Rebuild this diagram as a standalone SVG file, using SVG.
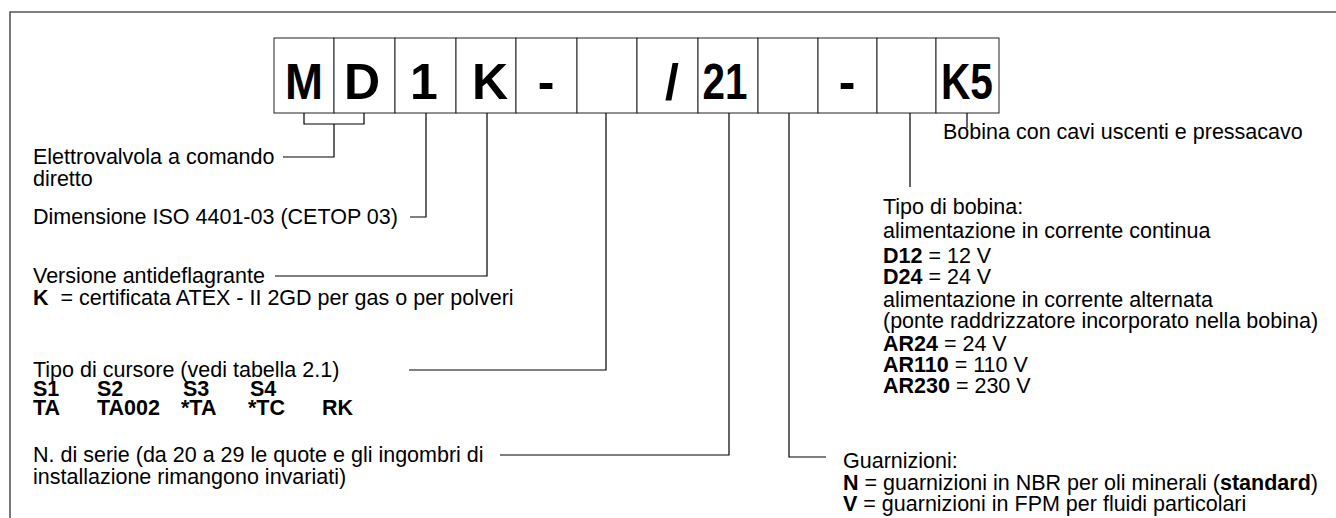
<svg xmlns="http://www.w3.org/2000/svg" width="1336" height="518" viewBox="0 0 1336 518">
<style>
.frame{fill:none;stroke:#555;stroke-width:1.6}
.box{fill:#fff;stroke:#222;stroke-width:1}
.code{font-family:"Liberation Sans",Arial,sans-serif;font-weight:bold;font-size:50px;fill:#000;text-anchor:middle}
.t{font-family:"Liberation Sans",Arial,sans-serif;font-size:21.5px;fill:#000;white-space:pre}
.b{font-weight:bold}
.conn{fill:none;stroke:#000;stroke-width:1.2}
</style>
<rect width="1336" height="518" fill="#fff"/>
<path class="frame" d="M10,518 V12 H1336"/>
<g id="boxes">
<g id="box-M"><rect class="box" x="274" y="38" width="60" height="75"/><text class="code" x="304" y="99" textLength="38" lengthAdjust="spacingAndGlyphs">M</text></g>
<g id="box-D"><rect class="box" x="334" y="38" width="61" height="75"/><text class="code" x="362" y="99">D</text></g>
<g id="box-1"><rect class="box" x="395" y="38" width="61" height="75"/><text class="code" x="424" y="99">1</text></g>
<g id="box-K"><rect class="box" x="456" y="38" width="60" height="75"/><text class="code" x="490" y="99">K</text></g>
<g id="box-dash1"><rect class="box" x="516" y="38" width="61" height="75"/><text class="code" x="546" y="99">-</text></g>
<g id="box-cursor"><rect class="box" x="577" y="38" width="60" height="75"/></g>
<g id="box-slash"><rect class="box" x="637" y="38" width="61" height="75"/><text class="code" x="672" y="99">/</text></g>
<g id="box-21"><rect class="box" x="698" y="38" width="60" height="75"/><text class="code" x="725" y="99" textLength="45" lengthAdjust="spacingAndGlyphs">21</text></g>
<g id="box-seals"><rect class="box" x="758" y="38" width="60" height="75"/></g>
<g id="box-dash2"><rect class="box" x="818" y="38" width="59" height="75"/><text class="code" x="847" y="99">-</text></g>
<g id="box-coil"><rect class="box" x="877" y="38" width="59" height="75"/></g>
<g id="box-K5"><rect class="box" x="936" y="38" width="63" height="75"/><text class="code" x="967" y="99" textLength="52" lengthAdjust="spacingAndGlyphs">K5</text></g>
</g>
<g id="connectors">
<path class="conn" d="M304,113 V124 H364 V113"/>
<path class="conn" d="M334,124 V157 H283"/>
<path class="conn" d="M426,113 V217 H410"/>
<path class="conn" d="M487,113 V276 H275"/>
<path class="conn" d="M606,113 V370 H409"/>
<path class="conn" d="M729,113 V455 H500"/>
<path class="conn" d="M789,113 V457 H826"/>
<path class="conn" d="M910,113 V187"/>
<path class="conn" d="M967,113 V128"/>
</g>
<g id="label-md"><text class="t" x="33" y="164">Elettrovalvola a comando</text><text class="t" x="33" y="186">diretto</text></g>
<g id="label-size"><text class="t" x="33" y="224">Dimensione ISO 4401-03 (CETOP 03)</text></g>
<g id="label-version"><text class="t" x="33" y="283">Versione antideflagrante</text><text class="t" x="33" y="305"><tspan class="b">K</tspan>  = certificata ATEX - II 2GD per gas o per polveri</text></g>
<g id="label-cursor"><text class="t" x="33" y="377">Tipo di cursore (vedi tabella 2.1)</text>
<text class="t b" y="396"><tspan x="33">S1</tspan><tspan x="97">S2</tspan><tspan x="183">S3</tspan><tspan x="250">S4</tspan></text>
<text class="t b" y="415"><tspan x="33">TA</tspan><tspan x="97">TA002</tspan><tspan x="181">*TA</tspan><tspan x="248">*TC</tspan><tspan x="322">RK</tspan></text></g>
<g id="label-serie"><text class="t" x="33" y="462">N. di serie (da 20 a 29 le quote e gli ingombri di</text><text class="t" x="33" y="484">installazione rimangono invariati)</text></g>
<g id="label-k5"><text class="t" x="943" y="139">Bobina con cavi uscenti e pressacavo</text></g>
<g id="label-coil">
<text class="t" x="883" y="214">Tipo di bobina:</text>
<text class="t" x="883" y="238">alimentazione in corrente continua</text>
<text class="t" x="883" y="263"><tspan class="b">D12</tspan> = 12 V</text>
<text class="t" x="883" y="284"><tspan class="b">D24</tspan> = 24 V</text>
<text class="t" x="883" y="307">alimentazione in corrente alternata</text>
<text class="t" x="883" y="328">(ponte raddrizzatore incorporato nella bobina)</text>
<text class="t" x="883" y="351"><tspan class="b">AR24</tspan> = 24 V</text>
<text class="t" x="883" y="372"><tspan class="b">AR110</tspan> = 110 V</text>
<text class="t" x="883" y="393"><tspan class="b">AR230</tspan> = 230 V</text>
</g>
<g id="label-seals">
<text class="t" x="843" y="468">Guarnizioni:</text>
<text class="t" x="843" y="490"><tspan class="b">N</tspan> = guarnizioni in NBR per oli minerali (<tspan class="b">standard</tspan>)</text>
<text class="t" x="843" y="511"><tspan class="b">V</tspan> = guarnizioni in FPM per fluidi particolari</text>
</g>
</svg>
